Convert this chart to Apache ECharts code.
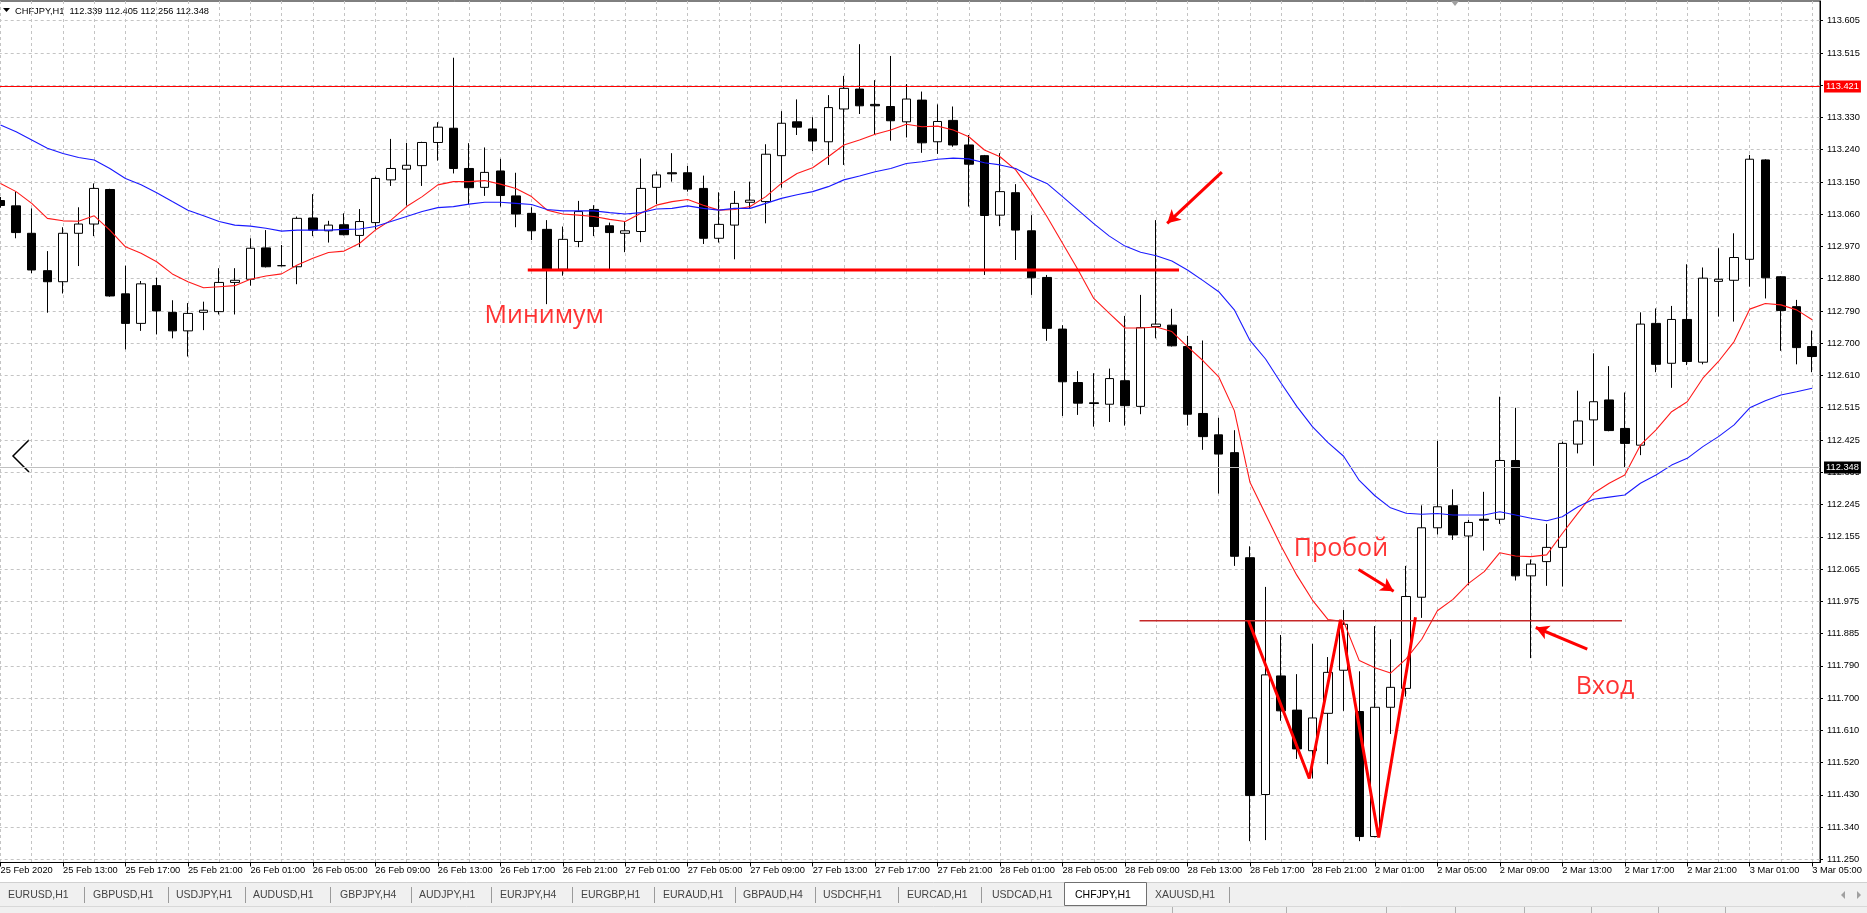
<!DOCTYPE html>
<html><head><meta charset="utf-8">
<script src="https://cdn.jsdelivr.net/npm/echarts@6/dist/echarts.min.js"></script>
<style>html,body{margin:0;padding:0;background:#fff;overflow:hidden}#c{width:1867px;height:913px}</style>
</head><body><div id="c"></div><script>
// ---------- data ----------
const dayHours = [['25 Feb',9,23],['26 Feb',0,23],['27 Feb',0,23],['28 Feb',0,23],['2 Mar',0,23],['3 Mar',0,5]];
const categories = [];
dayHours.forEach(d => { for (let h = d[1]; h <= d[2]; h++) categories.push(d[0] + ' ' + (h < 10 ? '0' : '') + h + ':00'); });

const xTickLabels = ['25 Feb 2020','25 Feb 13:00','25 Feb 17:00','25 Feb 21:00','26 Feb 01:00','26 Feb 05:00','26 Feb 09:00','26 Feb 13:00','26 Feb 17:00','26 Feb 21:00','27 Feb 01:00','27 Feb 05:00','27 Feb 09:00','27 Feb 13:00','27 Feb 17:00','27 Feb 21:00','28 Feb 01:00','28 Feb 05:00','28 Feb 09:00','28 Feb 13:00','28 Feb 17:00','28 Feb 21:00','2 Mar 01:00','2 Mar 05:00','2 Mar 09:00','2 Mar 13:00','2 Mar 17:00','2 Mar 21:00','3 Mar 01:00','3 Mar 05:00'];

const yTickValues = [111.2500,111.3406,111.4312,111.5217,111.6123,111.7029,111.7935,111.8840,111.9746,112.0652,112.1558,112.2463,112.3369,112.4275,112.5181,112.6087,112.6992,112.7898,112.8804,112.9709,113.0615,113.1521,113.2427,113.3333,113.4238,113.5144,113.6050];
const yTickLabels = ['111.250','111.340','111.430','111.520','111.610','111.700','111.790','111.885','111.975','112.065','112.155','112.245','112.335','112.425','112.515','112.610','112.700','112.790','112.880','112.970','113.060','113.150','113.240','113.330','113.425','113.515','113.605'];

const opens = [113.100,113.085,113.008,112.903,112.872,113.008,113.034,113.131,112.838,112.755,
112.861,112.786,112.734,112.786,112.788,112.870,112.879,112.967,112.917,112.914,
113.051,113.015,113.032,113.002,113.038,113.158,113.188,113.198,113.263,113.303,
113.190,113.137,113.183,113.113,113.064,113.019,112.907,112.985,113.075,113.029,
113.008,113.013,113.137,113.178,113.178,113.134,112.994,113.031,113.095,113.097,
113.226,113.321,113.301,113.265,113.357,113.413,113.370,113.364,113.321,113.382,
113.265,113.325,113.256,113.226,113.059,113.122,113.015,112.884,112.739,112.589,
112.532,112.528,112.594,112.522,112.746,112.750,112.690,112.502,112.442,112.392,
112.097,111.432,111.765,111.669,111.555,111.660,111.781,111.665,111.314,111.677,
111.730,111.986,112.181,112.243,112.158,112.205,112.205,112.370,112.046,112.086,
112.126,112.416,112.484,112.540,112.460,112.413,112.755,112.643,112.766,112.646,
112.873,112.876,112.935,113.214,112.886,112.802,112.690];
const closes = [113.086,113.010,112.905,112.872,113.008,113.034,113.134,112.832,112.755,112.866,
112.790,112.734,112.783,112.792,112.870,112.876,112.966,112.914,112.917,113.050,
113.017,113.031,113.004,113.041,113.162,113.190,113.199,113.263,113.306,113.190,
113.136,113.179,113.114,113.062,113.015,112.905,112.991,113.069,113.027,113.010,
113.015,113.134,113.172,113.175,113.132,112.994,113.033,113.092,113.101,113.230,
113.317,113.306,113.267,113.361,113.415,113.366,113.366,113.324,113.385,113.262,
113.322,113.256,113.202,113.058,113.125,113.017,112.883,112.741,112.591,112.531,
112.530,112.600,112.524,112.743,112.753,112.692,112.500,112.437,112.388,112.101,
111.429,111.768,111.667,111.560,111.647,111.775,111.910,111.314,111.677,111.733,
111.988,112.181,112.240,112.161,112.196,112.202,112.370,112.046,112.079,112.126,
112.418,112.481,112.535,112.454,112.418,112.753,112.640,112.766,112.648,112.882,
112.879,112.940,113.216,112.883,112.791,112.687,112.662];
const lows = [113.080,112.994,112.896,112.785,112.839,112.916,113.000,112.830,112.682,112.734,
112.724,112.713,112.662,112.736,112.780,112.780,112.861,112.912,112.915,112.865,
113.000,112.982,113.002,112.969,113.019,113.141,113.086,113.141,113.212,113.176,
113.090,113.113,113.083,113.025,112.989,112.809,112.889,112.969,113.000,112.905,
112.955,112.983,113.090,113.153,113.125,112.978,112.982,112.935,113.076,113.036,
113.136,113.284,113.239,113.200,113.200,113.343,113.286,113.268,113.277,113.234,
113.231,113.251,113.083,112.891,113.028,112.933,112.835,112.706,112.495,112.498,
112.465,112.478,112.468,112.500,112.713,112.690,112.468,112.400,112.277,112.074,
111.301,111.304,111.639,111.532,111.477,111.517,111.667,111.301,111.312,111.602,
111.707,111.928,112.162,112.147,112.020,112.117,112.192,112.033,111.815,112.018,
112.016,112.390,112.355,112.452,112.350,112.385,112.618,112.574,112.638,112.640,
112.774,112.760,112.858,112.825,112.678,112.640,112.618];
const highs = [113.110,113.125,113.078,112.958,113.025,113.081,113.148,113.133,112.917,112.874,
112.883,112.820,112.812,112.816,112.910,112.910,112.994,113.017,112.975,113.055,
113.118,113.043,113.064,113.076,113.167,113.273,113.262,113.265,113.320,113.501,
113.261,113.249,113.217,113.178,113.081,113.045,113.027,113.099,113.087,113.038,
113.041,113.218,113.181,113.233,113.197,113.170,113.123,113.127,113.153,113.258,
113.351,113.384,113.334,113.396,113.450,113.539,113.438,113.506,113.427,113.406,
113.370,113.364,113.284,113.228,113.233,113.146,113.059,112.891,112.750,112.621,
112.615,112.628,112.776,112.835,113.045,112.796,112.720,112.707,112.490,112.455,
112.129,112.015,111.880,111.770,111.855,111.818,111.950,111.778,111.905,111.868,
112.074,112.244,112.425,112.289,112.203,112.282,112.549,112.518,112.092,112.192,
112.423,112.566,112.671,112.635,112.561,112.786,112.797,112.804,112.921,112.912,
112.966,113.008,113.228,113.216,112.888,112.821,112.735];

const maFast = [113.148,113.125,113.092,113.050,113.043,113.042,113.057,113.017,112.970,112.952,
112.928,112.894,112.872,112.855,112.858,112.861,112.879,112.888,112.894,112.919,
112.938,112.954,112.958,112.980,113.017,113.045,113.083,113.111,113.144,113.153,
113.153,113.156,113.146,113.134,113.111,113.073,113.062,113.059,113.055,113.047,
113.041,113.064,113.087,113.097,113.103,113.087,113.073,113.075,113.083,113.111,
113.148,113.176,113.192,113.223,113.256,113.270,113.286,113.298,113.314,113.307,
113.309,113.298,113.279,113.242,113.223,113.186,113.125,113.055,112.980,112.905,
112.825,112.783,112.742,112.742,112.745,112.732,112.690,112.650,112.605,112.510,
112.309,112.219,112.129,112.048,111.978,111.923,111.918,111.808,111.788,111.773,
111.813,111.868,111.948,111.980,112.025,112.058,112.111,112.102,112.100,112.105,
112.165,112.222,112.278,112.306,112.329,112.413,112.456,112.507,112.535,112.601,
112.648,112.704,112.795,112.811,112.807,112.793,112.765];
const maSlow = [113.312,113.293,113.270,113.247,113.232,113.221,113.214,113.190,113.162,113.144,
113.122,113.097,113.073,113.057,113.041,113.031,113.028,113.022,113.014,113.017,
113.017,113.017,113.019,113.020,113.027,113.041,113.055,113.069,113.080,113.083,
113.090,113.095,113.095,113.092,113.089,113.075,113.071,113.071,113.071,113.066,
113.062,113.066,113.076,113.078,113.085,113.078,113.073,113.078,113.078,113.092,
113.106,113.116,113.125,113.139,113.158,113.169,113.181,113.190,113.204,113.209,
113.216,113.219,113.217,113.206,113.200,113.190,113.167,113.148,113.111,113.073,
113.035,113.000,112.972,112.955,112.945,112.930,112.905,112.875,112.844,112.793,
112.707,112.655,112.587,112.522,112.465,112.420,112.382,112.314,112.271,112.237,
112.222,112.219,112.221,112.217,112.217,112.217,112.226,112.217,112.208,112.201,
112.212,112.240,112.261,112.267,112.273,112.306,112.329,112.357,112.376,112.409,
112.437,112.470,112.518,112.538,112.554,112.563,112.573];

// annotations (x in bar index units, y in price)
const levelHigh = 113.421;
const lastPrice = 112.348;
const minLine = [[33.76,112.905],[75.46,112.905]];
const neckLine = [[72.93,111.920],[103.82,111.920]];
const zigzag = [[79.91,111.920],[83.80,111.477],[85.80,111.923],[88.24,111.311],[90.60,111.930]];
const arrows = [
  [[78.2,113.180],[74.7,113.036]],
  [[86.95,112.064],[89.2,112.003]],
  [[101.6,111.840],[98.3,111.901]]
];
const texts = [
  {name:'Минимум', value:[30.96,112.776]},
  {name:'Пробой', value:[82.77,112.121]},
  {name:'Вход', value:[100.83,111.734]}
];
const tabNames = ['EURUSD,H1','GBPUSD,H1','USDJPY,H1','AUDUSD,H1','GBPJPY,H4','AUDJPY,H1','EURJPY,H4','EURGBP,H1','EURAUD,H1','GBPAUD,H4','USDCHF,H1','EURCAD,H1','USDCAD,H1','CHFJPY,H1','XAUUSD,H1'];
const activeTab = 'CHFJPY,H1';
const headerText = 'CHFJPY,H1  112.339 112.405 112.256 112.348';

// ---------- layout ----------
const tabX = [8,93,176,253,340,419,500,581,663,743,823,907,992,1075,1155];
const sepX = [84,168,245,330,411,491,572,654,735,815,898,981,1229];
const evenIdx = []; for (let i = 0; i <= categories.length - 1; i += 2) evenIdx.push(i);

const FONT = 'Liberation Sans';
const candleData = categories.map((c, i) => [opens[i], closes[i], lows[i], highs[i]]);

const graphic = [
  {type:'polygon', shape:{points:[[3,8],[10,8],[6.5,12]]}, style:{fill:'#000'}},
  {type:'text', x:15, y:11, style:{text:headerText, fill:'#000', font:'9.3px "'+FONT+'"', verticalAlign:'middle'}},
  {type:'polygon', shape:{points:[[1451,1],[1459,1],[1455,6]]}, style:{fill:'#a0a0a0'}},
  {type:'polyline', shape:{points:[[29,440],[13,456],[29,472]]}, style:{stroke:'#000', lineWidth:1.5, fill:null}},
  {type:'rect', shape:{x:0,y:882,width:1867,height:25}, style:{fill:'#f0f0f0'}},
  {type:'line', shape:{x1:0,y1:882.5,x2:1867,y2:882.5}, style:{stroke:'#d0d0d0', lineWidth:1}},
  {type:'rect', shape:{x:0,y:907,width:1867,height:6}, style:{fill:'#f0f0f0'}},
  {type:'line', shape:{x1:0,y1:906.5,x2:1867,y2:906.5}, style:{stroke:'#d8d8d8', lineWidth:1}},
  {type:'rect', shape:{x:1064.5,y:882.5,width:82,height:23}, style:{fill:'#fff', stroke:'#707070', lineWidth:1}},
  {type:'polygon', shape:{points:[[1845,891],[1845,899],[1841,895]]}, style:{fill:'#a0a0a0'}},
  {type:'polygon', shape:{points:[[1857,891],[1857,899],[1861,895]]}, style:{fill:'#a0a0a0'}}
];
sepX.forEach(x => graphic.push({type:'line', shape:{x1:x+0.5,y1:887,x2:x+0.5,y2:903}, style:{stroke:'#9a9a9a', lineWidth:1}}));
tabNames.forEach((t, i) => graphic.push({type:'text', x:tabX[i], y:895, style:{text:t, fill: t === activeTab ? '#000' : '#444', font:'10.5px "'+FONT+'"', verticalAlign:'middle'}}));
[1172,1286,1386,1455,1524,1591,1658,1725].forEach(x => graphic.push({type:'line', shape:{x1:x+0.5,y1:907,x2:x+0.5,y2:913}, style:{stroke:'#b0b0b0', lineWidth:1}}));

const chart = echarts.init(document.getElementById('c'), null, {renderer:'canvas'});
chart.setOption({
  animation:false,
  backgroundColor:'#fff',
  grid:{left:-7.3, right:47, top:1, bottom:50.5, outerBoundsMode:'none', containLabel:false,
        show:true, borderColor:'#000', borderWidth:1, backgroundColor:'#fff'},
  xAxis:[
    {type:'category', data:categories, boundaryGap:true,
     axisLine:{show:true, onZero:false, lineStyle:{color:'#000', width:1}},
     axisTick:{show:true, interval:3, alignWithLabel:true, length:4, lineStyle:{color:'#000'}},
     axisLabel:{interval:3, align:'left', margin:3, color:'#000', fontSize:9.3, fontFamily:FONT,
       formatter:(v, i) => xTickLabels[Math.round(i/4)] || ''},
     splitLine:{show:false}},
    {type:'value', min:-0.5, max:categories.length - 0.5, position:'top',
     axisLine:{show:false, onZero:false}, axisLabel:{show:false, customValues:evenIdx},
     axisTick:{show:false, customValues:evenIdx},
     splitLine:{show:true, lineStyle:{color:'#c4c4c4', type:[3,3], width:1}}}
  ],
  yAxis:{type:'value', position:'right', min:111.2411, max:113.6603, scale:true,
     axisLine:{show:true, onZero:false, lineStyle:{color:'#000'}},
     axisTick:{show:true, length:3, lineStyle:{color:'#000'}, customValues:yTickValues},
     axisLabel:{margin:7, color:'#000', fontSize:9.3, fontFamily:FONT, customValues:yTickValues,
       formatter:(v) => { const i = yTickValues.findIndex(t => Math.abs(t - v) < 1e-6); return i >= 0 ? yTickLabels[i] : ''; }},
     splitLine:{show:true, lineStyle:{color:'#c4c4c4', type:[3,3], width:1}}},
  series:[
    {type:'candlestick', name:'CHFJPY', data:candleData, barWidth:9, z:3,
     itemStyle:{color:'#fff', color0:'#000', borderColor:'#000', borderColor0:'#000', borderColorDoji:'#000', borderWidth:1}},
    {type:'line', name:'MA fast', data:maFast, symbol:'none', z:4, lineStyle:{color:'#ff1a1a', width:1.1}},
    {type:'line', name:'MA slow', data:maSlow, symbol:'none', z:4, lineStyle:{color:'#1a1aff', width:1.1}},
    {type:'line', xAxisIndex:1, data:minLine, symbol:'none', z:5, lineStyle:{color:'#ff0000', width:3},
     markLine:{symbol:['none','none'], silent:true, animation:false,
       data:[
         {yAxis:levelHigh, lineStyle:{color:'#ff0000', width:1, type:'solid'},
          label:{show:true, position:'end', distance:4, formatter:'113.421', color:'#fff', backgroundColor:'#ff0000', padding:[2,2,1,2], fontSize:9.3, fontFamily:FONT}},
         {yAxis:lastPrice, lineStyle:{color:'#c0c0c0', width:1, type:'solid'},
          label:{show:true, position:'end', distance:4, formatter:'112.348', color:'#fff', backgroundColor:'#000', padding:[2,2,1,2], fontSize:9.3, fontFamily:FONT}}
       ]}},
    {type:'line', xAxisIndex:1, data:neckLine, symbol:'none', z:5, lineStyle:{color:'#c62828', width:1.5}},
    {type:'line', xAxisIndex:1, data:zigzag, symbol:'none', z:6, lineStyle:{color:'#ff0000', width:3}},
    {type:'line', xAxisIndex:1, data:[], symbol:'none', z:6,
     markLine:{symbol:['none','arrow'], symbolSize:[11,13], silent:true, animation:false, label:{show:false},
       lineStyle:{color:'#ff0000', width:3, type:'solid'},
       data: arrows.map(a => [{coord:a[0]}, {coord:a[1]}])}},
    {type:'scatter', xAxisIndex:1, data:texts, symbolSize:1, itemStyle:{color:'rgba(0,0,0,0)'}, z:7,
     label:{show:true, position:'right', distance:0, formatter:'{b}', color:'#ff0000', fontSize:25, fontFamily:'Open Sans'}}
  ],
  graphic:graphic
});
</script></body></html>
